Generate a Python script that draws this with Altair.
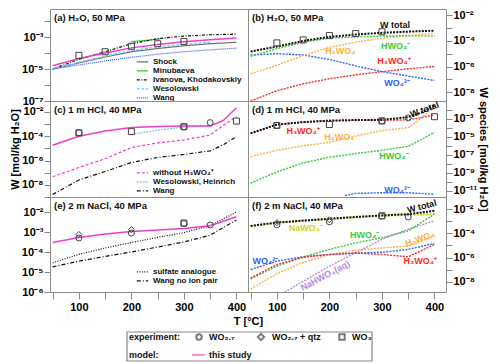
import altair as alt
import pandas as pd

FONT = "Liberation Sans"

# ---------------- data (log10 of W in mol/kg H2O) ----------------
T8 = [50, 100, 150, 200, 250, 300, 350, 400]
T9 = [50, 100, 150, 200, 250, 300, 350, 375, 400]

# (a) H2O, 50 MPa
a_this = [-4.80, -4.35, -4.00, -3.68, -3.47, -3.30, -3.17, -3.06]
a_shock = [-5.00, -4.62, -4.25, -3.92, -3.72, -3.55, -3.42, -3.33]
a_minub_T = [200, 255]
a_minub = [-3.29, -3.13]
a_ivanova = [-5.00, -4.40, -3.92, -3.42, -3.10, -2.94, -2.86, -2.82]
a_weso_T = [50, 100, 150, 200, 250, 300, 350]
a_weso = [-5.00, -4.58, -4.20, -3.85, -3.62, -3.45, -3.32]
a_wang = [-5.00, -4.75, -4.50, -4.27, -4.08, -3.92, -3.80, -3.70]

# experiments in H2O (squares, WO3)
h2o_exp_T = [100, 150, 200, 250, 300]
h2o_exp = [-4.15, -3.92, -3.58, -3.42, -3.28]
h2o_exp_kind = ["WO3", "WO3", "WO3", "WO3", "WO3"]

# (b) species in H2O
b_total = [-4.83, -4.44, -4.00, -3.68, -3.50, -3.36, -3.27, -3.20]
b_hwo4 = [-5.20, -4.60, -4.10, -3.78, -3.68, -3.62, -3.60, -3.60]
b_h2wo4 = [-6.57, -5.90, -5.15, -4.50, -4.10, -3.80, -3.58, -3.40]
b_h3wo4 = [-8.70, -7.90, -7.35, -6.96, -6.65, -6.40, -6.18, -6.00]
b_wo4 = [-5.10, -5.00, -5.10, -5.45, -5.95, -6.40, -6.75, -7.10]

# (c) 1 m HCl, 40 MPa
c_this = [-4.74, -4.00, -3.57, -3.29, -3.20, -3.15, -3.15, -2.70, -1.65]
c_without = [-7.33, -6.57, -5.85, -4.93, -4.55, -4.30, -3.90, -3.10, -2.40]
c_weso_T = [200, 250, 300, 350]
c_weso = [-3.84, -3.50, -3.24, -3.15]
c_wang = [-8.80, -7.60, -6.90, -6.16, -5.75, -5.50, -5.20, -4.70, -4.03]

hcl_exp_T = [100, 100, 200, 300, 300, 350, 400]
hcl_exp = [-3.72, -3.72, -3.62, -3.22, -3.22, -2.88, -2.75]
hcl_exp_kind = ["WO2.7", "WO3", "WO3", "WO3", "WO2.7", "WO2.7", "WO3"]

# (d) species in 1 m HCl
d_total = [-4.60, -3.63, -3.35, -3.19, -3.12, -3.10, -2.80, -2.30, -1.50]
d_h3wo4 = [-4.60, -3.65, -3.35, -3.20, -3.15, -3.15, -3.10, -2.85, -2.55]
d_h2wo4 = [-7.20, -6.50, -6.00, -5.60, -4.90, -4.30, -3.96, -2.90, -1.60]
d_hwo4 = [-10.15, -8.90, -7.90, -7.26, -6.85, -6.50, -6.05, -5.30, -4.50]
d_wo4_T = [230, 250, 300, 350, 400]
d_wo4 = [-11.55, -11.30, -11.22, -11.22, -11.40]

# (e) 2 m NaCl, 40 MPa
e_this = [-3.53, -3.28, -3.10, -2.97, -2.90, -2.82, -2.69, -2.24]
e_sulfate = [-4.54, -4.12, -3.80, -3.53, -3.27, -3.03, -2.69, -2.00]
e_wang = [-4.74, -4.46, -4.22, -4.00, -3.75, -3.50, -3.16, -2.40]

nacl_exp_T = [100, 100, 200, 200, 300, 300, 350]
nacl_exp = [-3.30, -3.12, -3.05, -2.88, -2.58, -2.55, -2.65]
nacl_exp_kind = ["WO2.7", "WO2.7 + qtz", "WO2.7", "WO2.7 + qtz", "WO2.7", "WO3", "WO2.7"]

# (f) species in 2 m NaCl
f_total = [-3.39, -3.11, -2.95, -2.80, -2.65, -2.52, -2.42, -2.14]
f_nawo4 = [-3.41, -3.13, -2.97, -2.82, -2.68, -2.56, -2.48, -2.40]
f_hwo4 = [-7.78, -6.72, -5.95, -5.33, -4.80, -4.36, -3.80, -2.42]
f_nahwo4_T = [115, 150, 200, 250, 300, 350, 400]
f_nahwo4 = [-8.85, -7.97, -6.72, -5.60, -4.50, -3.67, -2.97]
f_h2wo4 = [-8.60, -7.33, -6.40, -5.75, -5.40, -5.20, -5.05, -4.22]
f_wo4 = [-7.00, -6.30, -5.94, -5.75, -5.65, -5.56, -5.33, -4.83]
f_h3wo4 = [-7.70, -6.58, -5.98, -5.75, -5.62, -5.75, -5.94, -4.92]

# ---------------- styles ----------------
PINK = "#f23ccb"
SP = {
    "W total": ("#111111", [2, 1.2], 2.0),
    "NaWO4": ("#d2d21e", [2, 1.2], 2.0),
    "HWO4": ("#33cc33", [2, 1.2], 1.4),
    "H2WO4": ("#ffb040", [2, 1.2], 1.4),
    "H3WO4": ("#ff2a2a", [2, 1.2], 1.4),
    "WO4": ("#2f62ff", [2, 1.2], 1.4),
    "NaHWO4": ("#b48ae8", [2, 1.2], 1.4),
}
SP_ORDER = ["NaWO4", "NaHWO4", "WO4", "H2WO4", "HWO4", "H3WO4", "W total"]

SUP = {"-": "\u207b", "0": "\u2070", "1": "\u00b9", "2": "\u00b2", "3": "\u00b3",
       "4": "\u2074", "5": "\u2075", "6": "\u2076", "7": "\u2077", "8": "\u2078", "9": "\u2079"}

W = 198


def lab(e):
    return "10" + "".join(SUP[c] for c in str(e))


def label_expr(labeled):
    parts = [f"round(log(datum.value)/LN10) == {e} ? '{lab(e)}'" for e in labeled]
    return " : ".join(parts) + " : ''"


XS = alt.Scale(domain=[45, 422], nice=False, zero=False)


def x_enc(show, title=None):
    if not show:
        return alt.X("T:Q", scale=XS, axis=None)
    kw = dict(values=[50, 100, 150, 200, 250, 300, 350, 400],
              labelExpr="datum.value % 100 == 0 ? datum.value : ''",
              tickSize=7, tickColor="#888", domain=False, grid=False,
              labelFontSize=11, labelFontWeight="bold", labelPadding=2,
              labelFlush=False, labelFont=FONT)
    if title:
        kw.update(title=title, titleX=W, titleAlign="center", titleFontSize=11,
                  titleFontWeight="bold", titleFont=FONT, titlePadding=3)
    else:
        kw.update(title="")
    return alt.X("T:Q", scale=XS, axis=alt.Axis(**kw))


def y_enc(lo, hi, vals, labeled, orient, title=None):
    kw = dict(orient=orient, values=[10.0 ** v for v in vals],
              labelExpr=label_expr(labeled), tickSize=6, tickColor="#888",
              domain=False, grid=False, labelFontSize=11, labelFontWeight="bold",
              labelPadding=1, labelFont=FONT, labelOverlap=False, labelFlush=False)
    if title:
        kw.update(title=title, titleFontSize=11, titleFontWeight="bold",
                  titleFont=FONT, titlePadding=1)
    else:
        kw.update(title="")
    return alt.Y("W:Q", scale=alt.Scale(type="log", domain=[10.0 ** lo, 10.0 ** hi], nice=False),
                 axis=alt.Axis(**kw))


def long(series):
    rows = []
    for name, Ts, vs in series:
        for t, v in zip(Ts, vs):
            rows.append({"T": t, "W": 10.0 ** v, "s": name})
    return pd.DataFrame(rows)


def exp_df(Ts, vs, kinds):
    return pd.DataFrame({"T": Ts, "W": [10.0 ** v for v in vs], "exp": kinds})


def points(df, X, Y):
    return alt.Chart(df).mark_point(filled=False, color="#444", size=36, strokeWidth=1, opacity=1).encode(
        x=X, y=Y,
        shape=alt.Shape("exp:N", scale=alt.Scale(domain=["WO2.7", "WO2.7 + qtz", "WO3"],
                                                 range=["circle", "diamond", "square"]), legend=None))


ONE = pd.DataFrame({"k": [0]})


def panel_label(text):
    return alt.Chart(ONE).mark_text(
        align="left", baseline="middle", fontSize=9.5, fontWeight="bold", font=FONT, color="#111").encode(
        x=alt.value(4), y=alt.value(9), text=alt.value(text))


def left_panel(models, this_T, this_v, exp, lo, hi, vals, labeled, text, legY, show_x, ytitle, h, extra=()):
    X = x_enc(show_x, "T [\u00b0C]" if show_x else None)
    Y = y_enc(lo, hi, vals, labeled, "left", ytitle)
    names = [m[0] for m in models]
    df = long([(m[0], m[1], m[2]) for m in models])
    leg = alt.Legend(orient="none", legendX=86, legendY=legY, title=None, symbolType="stroke",
                     symbolSize=130, symbolStrokeWidth=1.3, labelFontSize=8, labelFontWeight="bold",
                     labelFont=FONT, rowPadding=0, clipHeight=7.6, padding=0, labelOffset=4,
                     labelLimit=200, labelColor="#111")
    lines = alt.Chart(df).mark_line(clip=True, strokeWidth=1.2).encode(
        x=X, y=Y,
        color=alt.Color("s:N", scale=alt.Scale(domain=names, range=[m[3] for m in models]), legend=leg),
        strokeDash=alt.StrokeDash("s:N", scale=alt.Scale(domain=names, range=[m[4] for m in models]), legend=leg),
    )
    this = alt.Chart(long([("this study", this_T, this_v)])).mark_line(
        clip=True, color=PINK, strokeWidth=1.5).encode(x=X, y=Y)
    return alt.layer(lines, this, points(exp, X, Y), panel_label(text), *extra).properties(width=W, height=h)


def right_panel(species, annots, exp, lo, hi, vals, labeled, text, show_x, ytitle, h):
    X = x_enc(show_x)
    Y = y_enc(lo, hi, vals, labeled, "right", ytitle)
    df = long(species)
    dom = SP_ORDER
    cs = alt.Scale(domain=dom, range=[SP[s][0] for s in dom])
    layers = []
    for name in dom:
        sub = df[df.s == name]
        if len(sub) == 0:
            continue
        col, dash, w = SP[name]
        layers.append(alt.Chart(sub).mark_line(clip=True, color=col, strokeDash=dash, strokeWidth=w).encode(x=X, y=Y))
    adf = pd.DataFrame([{"T": a[0], "W": 10.0 ** a[1], "label": a[2], "s": a[3], "angle": a[4]} for a in annots])
    txt = alt.Chart(adf).mark_text(fontSize=9, fontWeight="bold", font=FONT, baseline="middle", align="center").encode(
        x=X, y=Y, text="label:N",
        color=alt.Color("s:N", scale=cs, legend=None),
        angle=alt.Angle("angle:Q", scale=None))
    return alt.layer(*layers, txt, points(exp, X, Y), panel_label(text)).properties(width=W, height=h)


# ---------------- bottom legend box (drawn below panel e) ----------------
one = alt.Chart(ONE)
tx = dict(align="left", baseline="middle", fontSize=9, fontWeight="bold", font=FONT, color="#111")
BY = 135
box_layers = [
    one.mark_rect(fillOpacity=0, stroke="#888", strokeWidth=1.2, clip=False).encode(
        x=alt.value(77), x2=alt.value(322), y=alt.value(BY), y2=alt.value(BY + 29)),
    one.mark_text(**tx).encode(x=alt.value(79), y=alt.value(BY + 5), text=alt.value("experiment:")),
    one.mark_text(**tx).encode(x=alt.value(79), y=alt.value(BY + 23), text=alt.value("model:")),
    one.mark_point(shape="circle", filled=False, color="#444", size=30).encode(x=alt.value(149), y=alt.value(BY + 5)),
    one.mark_text(**tx).encode(x=alt.value(159), y=alt.value(BY + 5), text=alt.value("WO\u2082.\u2087")),
    one.mark_point(shape="diamond", filled=False, color="#444", size=40).encode(x=alt.value(211), y=alt.value(BY + 5)),
    one.mark_text(**tx).encode(x=alt.value(222), y=alt.value(BY + 5), text=alt.value("WO\u2082.\u2087 + qtz")),
    one.mark_point(shape="square", filled=False, color="#444", size=30).encode(x=alt.value(292), y=alt.value(BY + 5)),
    one.mark_text(**tx).encode(x=alt.value(302), y=alt.value(BY + 5), text=alt.value("WO\u2083")),
    one.mark_rule(color="#ff8fdc", strokeWidth=2).encode(x=alt.value(142), x2=alt.value(155), y=alt.value(BY + 23)),
    one.mark_text(**tx).encode(x=alt.value(159), y=alt.value(BY + 23), text=alt.value("this study")),
]

# ---------------- panels ----------------
pa = left_panel(
    [("Shock", T8, a_shock, "#6e6e6e", [1, 0]),
     ("Minubaeva", a_minub_T, a_minub, "#33cc33", [1, 0]),
     ("Ivanova, Khodakovskiy", T8, a_ivanova, "#111111", [3, 1.5, 1, 1.5]),
     ("Wesolowski", a_weso_T, a_weso, "#66ccff", [3, 1.5]),
     ("Wang", T8, a_wang, "#3355ff", [1, 1])],
    T8, a_this, exp_df(h2o_exp_T, h2o_exp, h2o_exp_kind),
    -7, -1.25, [-7, -6, -5, -4, -3, -2], [-7, -5, -3], "(a)  H\u2082O, 50 MPa", 49, False, None, 92)

pb = right_panel(
    [("W total", T8, b_total), ("HWO4", T8, b_hwo4), ("H2WO4", T8, b_h2wo4),
     ("H3WO4", T8, b_h3wo4), ("WO4", T8, b_wo4)],
    [(325, -2.72, "W total", "W total", 0),
     (326, -4.36, "HWO\u2084\u207b", "HWO4", 0),
     (221, -4.76, "H\u2082WO\u2084", "H2WO4", 0),
     (323, -5.54, "H\u2083WO\u2084\u207a", "H3WO4", 0),
     (329, -7.28, "WO\u2084\u00b2\u207b", "WO4", 0)],
    exp_df(h2o_exp_T, h2o_exp, h2o_exp_kind),
    -8.7, -1.5, [-8, -7, -6, -5, -4, -3, -2], [-8, -6, -4, -2], "(b)  H\u2082O, 50 MPa", False, None, 92)

pc = left_panel(
    [("without H\u2083WO\u2084\u207a", T9, c_without, PINK, [3, 2]),
     ("Wesolowski, Heinrich", c_weso_T, c_weso, "#66ccff", [2, 1]),
     ("Wang", T9, c_wang, "#111111", [4, 2, 1, 2])],
    T9, c_this, exp_df(hcl_exp_T, hcl_exp, hcl_exp_kind),
    -9, -1.1, [-9, -8, -7, -6, -5, -4, -3, -2], [-8, -6, -4, -2], "(c)  1 m HCl, 40 MPa", 68, False,
    "W [mol/kg H\u2082O]", 96)

pd_ = right_panel(
    [("W total", T9, d_total), ("H3WO4", T9, d_h3wo4), ("H2WO4", T9, d_h2wo4),
     ("HWO4", T9, d_hwo4), ("WO4", d_wo4_T, d_wo4)],
    [(381, -1.95, "W total", "W total", 340),
     (150, -4.33, "H\u2083WO\u2084\u207a", "H3WO4", 0),
     (219, -5.0, "H\u2082WO\u2084", "H2WO4", 0),
     (323, -7.1, "HWO\u2084\u207b", "HWO4", 0),
     (329, -10.9, "WO\u2084\u00b2\u207b", "WO4", 0)],
    exp_df(hcl_exp_T, hcl_exp, hcl_exp_kind),
    -11.7, -1.0, [-11, -10, -9, -8, -7, -6, -5, -4, -3, -2], [-11, -9, -7, -5, -3],
    "(d)  1 m HCl, 40 MPa", False, "W species [mol/kg H\u2082O]", 96)

pe = left_panel(
    [("sulfate analogue", T8, e_sulfate, "#111111", [1, 1.5]),
     ("Wang no ion pair", T8, e_wang, "#111111", [4, 2, 1, 2])],
    T8, e_this, exp_df(nacl_exp_T, nacl_exp, nacl_exp_kind),
    -6, -1.25, [-6, -5, -4, -3, -2], [-6, -5, -4, -3, -2], "(e)  2 m NaCl, 40 MPa", 71, True, None, 95,
    extra=box_layers)

pf = right_panel(
    [("NaWO4", T8, f_nawo4), ("W total", T8, f_total), ("HWO4", T8, f_hwo4),
     ("NaHWO4", f_nahwo4_T, f_nahwo4), ("H2WO4", T8, f_h2wo4), ("WO4", T8, f_wo4),
     ("H3WO4", T8, f_h3wo4)],
    [(376, -1.78, "W total", "W total", 345),
     (155, -3.6, "NaWO\u2084\u207b", "NaWO4", 0),
     (267, -4.1, "HWO\u2084\u207b", "HWO4", 0),
     (372, -4.45, "H\u2082WO\u2084", "H2WO4", 340),
     (373, -6.3, "H\u2083WO\u2084\u207a", "H3WO4", 0),
     (78, -6.3, "WO\u2084\u00b2\u207b", "WO4", 0),
     (192, -7.5, "NaHWO\u2084(aq)", "NaHWO4", 332)],
    exp_df(nacl_exp_T, nacl_exp, nacl_exp_kind),
    -8.85, -1.0, [-8, -7, -6, -5, -4, -3, -2], [-8, -6, -4, -2], "(f)  2 m NaCl, 40 MPa", True, None, 95)

chart = alt.concat(pa, pb, pc, pd_, pe, pf, columns=2, spacing=0, bounds="flush").resolve_scale(
    color="independent", strokeDash="independent").resolve_legend(
    color="independent", strokeDash="independent").properties(
    padding={"left": 0, "top": 0, "right": 0, "bottom": 0}
).configure_view(stroke="#8c8c8c", strokeWidth=1).configure_text(font=FONT)

chart.save("out.html", embed_options={"renderer": "svg", "actions": False})
